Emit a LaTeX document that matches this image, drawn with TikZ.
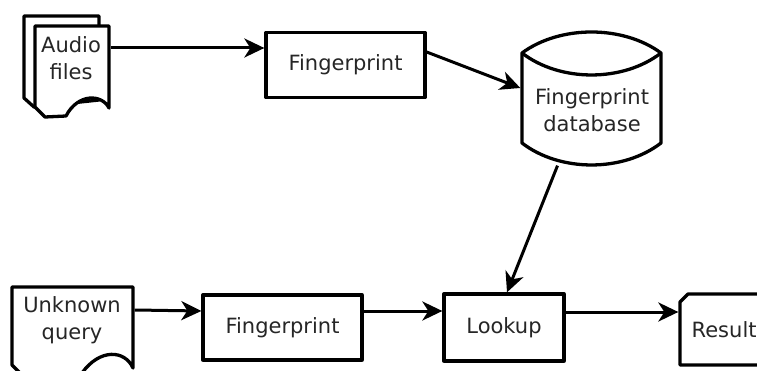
\documentclass[tikz,border=0pt]{standalone}
\usepackage{fontspec}
\setmainfont{DejaVu Sans}
\usetikzlibrary{arrows.meta,calc}
\begin{document}
\begin{tikzpicture}[x=1pt,y=-1pt,
  line width=3.3pt, line join=round,
  lbl/.style={font=\fontsize{21}{27}\selectfont, align=center, text=black!85, inner sep=0pt},
  box/.style={draw, lbl, minimum width=#1, minimum height=65pt, inner sep=0pt},
  arr/.style={-{Stealth[length=20pt,width=19pt,inset=6pt]}, line width=3pt}]
\useasboundingbox (0,0) rectangle (757,371);
\clip (0,0) rectangle (757,371);
% Audio files (two stacked pages)
\filldraw[fill=white] (24,16) -- (99,16) -- (99,100) -- (34,107) -- (24,98) -- cycle;
\filldraw[fill=white] (35,26) -- (109,26) -- (109,108)
   .. controls (102,94) and (78,93) .. (66,116) -- (45,117) -- (35,107) -- cycle;
\node[lbl, minimum width=74pt, minimum height=82pt] (audio) at (72,67) {};
\node[lbl] (audiotxt) at (71,58) {Audio\\files};
% Fingerprint 1
\node[box=159pt] (fp1) at (345.5,65) {Fingerprint};
% Database
\filldraw[fill=white] (522,53) .. controls (560,25) and (623,25) .. (661,53)
   -- (661,143) .. controls (623,172.3) and (560,172.3) .. (522,143) -- cycle;
\draw (522,53) .. controls (560,82.3) and (623,82.3) .. (661,53);
\node[lbl, minimum width=139pt, minimum height=133pt] (db) at (591.5,98.5) {};
\node[lbl] (dbtxt) at (592,110) {Fingerprint\\database};
% Unknown query
\filldraw[fill=white] (12,287) -- (133,287) -- (133,368)
   .. controls (125,350) and (100,348) .. (82,373) -- (20,373) -- (12,365) -- cycle;
\node[lbl, minimum width=121pt, minimum height=84pt] (query) at (72.5,329) {};
\node[lbl] (querytxt) at (72,320) {Unknown\\query};
% Fingerprint 2
\node[box=159pt] (fp2) at (282.5,327.5) {Fingerprint};
% Lookup
\node[box=120pt, minimum height=67pt] (lookup) at (504,327.5) {Lookup};
% Result
\filldraw[fill=white] (770,294) -- (688,294) -- (680,302) -- (680,365) -- (770,365);
\node[lbl, minimum width=80pt, minimum height=71pt] (result) at (720,329.5) {};
\node[lbl, anchor=west] (resulttxt) at (690,330) {Result};
% Connectors
\draw[arr] (audio.east |- 0,48) -- (fp1.west |- 0,48);
\draw[arr] (fp1.east |- 0,52) -- (db.west |- 0,88);
\draw[arr] ($(db.south)+(-34,-1)$) -- ($(lookup.north)+(3,0)$);
\draw[arr] (query.east |- 0,310) -- (fp2.west |- 0,311);
\draw[arr] (fp2.east |- 0,311) -- (lookup.west |- 0,311);
\draw[arr] (lookup.east |- 0,312) -- (result.west |- 0,312);
\end{tikzpicture}
\end{document}
